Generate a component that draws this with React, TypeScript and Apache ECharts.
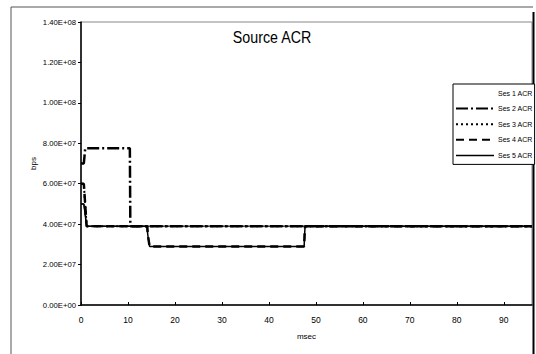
import React, { useEffect, useRef } from "react";
import * as echarts from "echarts";

const FONT = "'Liberation Sans', Arial, sans-serif";

const seriesNames = ["Ses 1 ACR", "Ses 2 ACR", "Ses 3 ACR", "Ses 4 ACR", "Ses 5 ACR"];

// time (msec) and rate (bps) per session
const ses1Time = [0, 0.6, 1.2, 96];
const ses1Bps = [50e6, 50e6, 39e6, 39e6];

const ses2Time = [0, 0.6, 0.9, 10.4, 10.5, 96];
const ses2Bps = [70e6, 70e6, 77.5e6, 77.5e6, 39e6, 39e6];

const ses3Time = [0, 0.6, 1.2, 96];
const ses3Bps = [60e6, 60e6, 39e6, 39e6];

const ses4Time = [0, 0.6, 1.2, 14.1, 14.2, 14.6, 47.5, 47.6, 47.7, 96];
const ses4Bps = [60e6, 60e6, 39e6, 39e6, 35e6, 29e6, 29e6, 35e6, 39e6, 39e6];

const ses5Time = [0, 0.6, 1.2, 14.1, 14.2, 14.6, 47.5, 47.6, 47.7, 96];
const ses5Bps = [50e6, 50e6, 39e6, 39e6, 35e6, 29e6, 29e6, 35e6, 39e6, 39e6];

const xTicks = [0, 10, 20, 30, 40, 50, 60, 70, 80, 90];
const yMax = 140e6;
const yStep = 20e6;

const zip = (t: number[], v: number[]) => t.map((x, i) => [x, v[i]]);

const fmtE = (v: number) => {
  if (v === 0) return "0.00E+00";
  const e = Math.floor(Math.log10(Math.abs(v)));
  const m = v / Math.pow(10, e);
  return m.toFixed(2) + "E+" + String(e).padStart(2, "0");
};

export default function App() {
  const ref = useRef<HTMLDivElement>(null);
  useEffect(() => {
    if (!ref.current) return;
    const chart = echarts.init(ref.current, undefined, { renderer: "svg" });
    const styles = [
      { type: "solid", width: 1, legendOpacity: 0 },
      { type: [12, 3, 2, 3], width: 2.5, legendOpacity: 1 },
      { type: [2, 3], width: 2, legendOpacity: 1 },
      { type: [8, 5], width: 2.5, legendOpacity: 1 },
      { type: "solid", width: 1.5, legendOpacity: 1 },
    ];
    const datas = [
      zip(ses1Time, ses1Bps),
      zip(ses2Time, ses2Bps),
      zip(ses3Time, ses3Bps),
      zip(ses4Time, ses4Bps),
      zip(ses5Time, ses5Bps),
    ];
    chart.setOption({
      animation: false,
      backgroundColor: "#fff",
      legend: {
        orient: "vertical",
        left: 453,
        top: 84,
        align: "left",
        itemWidth: 38,
        itemHeight: 10,
        itemGap: 7.6,
        padding: [5, 2, 5, 2],
        borderColor: "#000",
        borderWidth: 1,
        backgroundColor: "#fff",
        textStyle: { fontFamily: FONT, fontSize: 7, color: "#000", padding: [0, 0, 0, -1] },
        data: seriesNames.map((n, i) => ({
          name: n,
          itemStyle: { opacity: 0 },
          lineStyle: { opacity: styles[i].legendOpacity, width: Math.min(styles[i].width, 2) },
        })),
      },
      grid: {
        left: 81,
        right: 4,
        top: 22,
        bottom: 49,
        show: true,
        borderColor: "#888",
        borderWidth: 1,
        backgroundColor: "transparent",
      },
      xAxis: {
        type: "value",
        min: 0,
        max: 96,
        interval: 10,
        name: "msec",
        nameLocation: "middle",
        nameGap: 27,
        nameMoveOverlap: false,
        nameTextStyle: { fontFamily: FONT, fontSize: 8, color: "#000" },
        axisLine: { lineStyle: { color: "#000", width: 1.5 } },
        axisTick: { inside: true, length: 3, lineStyle: { color: "#000" } },
        axisLabel: {
          fontFamily: FONT,
          fontSize: 8.5,
          color: "#000",
          margin: 10,
          showMaxLabel: false,
          formatter: (v: number) => (xTicks.includes(v) ? String(v) : ""),
        },
        splitLine: { show: false },
      },
      yAxis: {
        type: "value",
        min: 0,
        max: yMax,
        interval: yStep,
        name: "bps",
        nameLocation: "middle",
        nameGap: 44,
        nameRotate: 90,
        nameMoveOverlap: false,
        nameTextStyle: { fontFamily: FONT, fontSize: 8, color: "#000" },
        axisLine: { show: true, lineStyle: { color: "#000", width: 1.5 } },
        axisTick: { show: true, length: 3, lineStyle: { color: "#000" } },
        axisLabel: { fontFamily: FONT, fontSize: 7.7, color: "#000", margin: 5, formatter: fmtE },
        splitLine: { show: false },
      },
      graphic: [
        { type: "line", shape: { x1: 11, y1: 7, x2: 11, y2: 354 }, style: { stroke: "#555", lineWidth: 1 } },
        { type: "line", shape: { x1: 11, y1: 7, x2: 533, y2: 7 }, style: { stroke: "#555", lineWidth: 1 } },
        { type: "line", shape: { x1: 533.5, y1: 12, x2: 533.5, y2: 354 }, style: { stroke: "#000", lineWidth: 2 } },
        {
          type: "text",
          x: 272,
          y: 37,
          scaleX: 0.84,
          style: {
            text: "Source ACR",
            fontFamily: FONT,
            fontSize: 17,
            fill: "#000",
            align: "center",
            verticalAlign: "middle",
          },
        },
      ],
      series: seriesNames.map((n, i) => ({
        name: n,
        type: "line",
        symbol: "none",
        data: datas[i],
        lineStyle: { color: "#000", width: styles[i].width, type: styles[i].type },
        itemStyle: { color: "#000" },
      })),
    });
    return () => chart.dispose();
  }, []);
  return (
    <div
      ref={ref}
      style={{ position: "fixed", left: 0, top: 0, width: 536, height: 354 }}
    />
  );
}
